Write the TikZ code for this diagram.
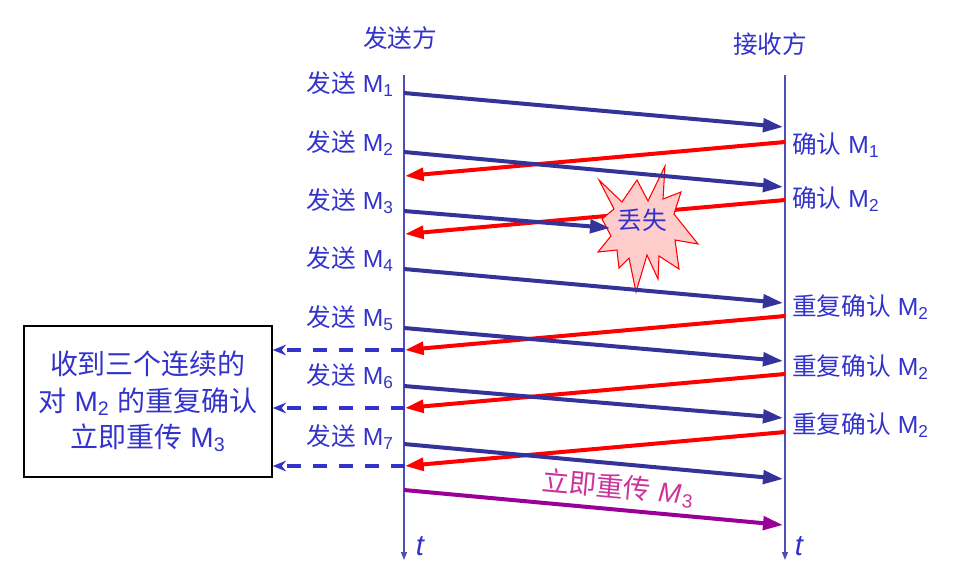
\documentclass[tikz,border=0pt]{standalone}
\usepackage{fontspec}
\setmainfont{Liberation Sans}
\newfontfamily\cjk{Noto Sans CJK SC}
\usetikzlibrary{arrows.meta}
\newcommand{\zh}[1]{{\cjk #1}}
\newcommand{\Msub}[1]{M\textsubscript{#1}}
\definecolor{navy}{HTML}{333399}
\definecolor{txtblue}{HTML}{3333CC}
\definecolor{lifeblue}{HTML}{5050B4}
\definecolor{ackred}{HTML}{FF0000}
\definecolor{retrans}{HTML}{990099}
\definecolor{retranstxt}{HTML}{CC3399}
\definecolor{starfill}{HTML}{FFCCCC}
\tikzset{
  lifeline/.style={draw=lifeblue, line width=1.1pt, -{Triangle[length=6pt,width=4.5pt]}},
  sendarrow/.style={draw=navy, line width=3pt, -{Triangle[length=15pt,width=10pt]}},
  ackarrow/.style={draw=ackred, line width=3pt, -{Triangle[length=14pt,width=9.5pt]}},
  retarrow/.style={draw=retrans, line width=3pt, -{Triangle[length=15pt,width=10pt]}},
  dasharrow/.style={draw=txtblue, line width=2.6pt, dash pattern=on 10.5pt off 9pt, -{Stealth[length=10pt,width=8pt]}},
  lbl/.style={text=txtblue, font=\fontsize{18.5}{22}\selectfont, inner sep=0pt},
  sendlbl/.style={lbl, anchor=east},
  acklbl/.style={lbl, anchor=west},
  hdr/.style={text=txtblue, font=\fontsize{18.5}{22}\selectfont, inner sep=0pt},
  tlbl/.style={text=txtblue, font=\fontsize{22}{24}\selectfont\itshape, inner sep=0pt},
}
\begin{document}
\begin{tikzpicture}[x=0.75pt,y=-0.75pt]
\useasboundingbox (0,0) rectangle (957,586);
% lifelines
\coordinate (Stop) at (404,75);
\coordinate (Sbot) at (404,560);
\coordinate (Rtop) at (785,75);
\coordinate (Rbot) at (785,560);
\draw[lifeline] (Stop) -- (Sbot);
\draw[lifeline] (Rtop) -- (Rbot);
% headers
\node[hdr] (hs) at (400,38) {\zh{发送方}};
\node[hdr] (hr) at (770,44) {\zh{接收方}};
% sender starts
\coordinate (s1) at (404,93);
\coordinate (s2) at (404,152);
\coordinate (s3) at (404,211);
\coordinate (s4) at (404,269);
\coordinate (s5) at (404,328);
\coordinate (s6) at (404,386);
\coordinate (s7) at (404,444);
\coordinate (s8) at (404,490);
% receiver ends
\coordinate (r1) at (783,127);
\coordinate (r2) at (783,187);
\coordinate (r4) at (783,303);
\coordinate (r5) at (783,361);
\coordinate (r6) at (783,418);
\coordinate (r7) at (783,479);
\coordinate (r8) at (783,525);
\coordinate (lost) at (610,228);
% acks
\coordinate (a1) at (785,142);
\coordinate (a2) at (785,200);
\coordinate (a3) at (785,316);
\coordinate (a4) at (785,374);
\coordinate (a5) at (785,432);
\coordinate (b1) at (405,176);
\coordinate (b2) at (405,234);
\coordinate (b3) at (405,350);
\coordinate (b4) at (405,408);
\coordinate (b5) at (405,466);
\draw[ackarrow] (a1) -- (b1);
\draw[ackarrow] (a2) -- (b2);
\draw[ackarrow] (a3) -- (b3);
\draw[ackarrow] (a4) -- (b4);
\draw[ackarrow] (a5) -- (b5);
% explosion
\draw[draw=ackred, fill=starfill, line width=0.8pt]
  (599,180) -- (622,202) -- (637,180) -- (648,201) -- (665,166) -- (663,199)
  -- (681,192) -- (674,214) -- (698,244) -- (675,240) -- (679,269) -- (659,256)
  -- (658,279) -- (647,255) -- (636,292) -- (629,258) -- (619,268) -- (617,250)
  -- (598,252) -- (611,236) -- (602,219) -- (614,209) -- cycle;
\node[lbl] (lostlbl) at (642,220) {\zh{丢失}};
% sends
\draw[sendarrow] (s1) -- (r1);
\draw[sendarrow] (s2) -- (r2);
\draw[sendarrow] (s3) -- (lost);
\draw[sendarrow] (s4) -- (r4);
\draw[sendarrow] (s5) -- (r5);
\draw[sendarrow] (s6) -- (r6);
\draw[sendarrow] (s7) -- (r7);
\draw[retarrow] (s8) -- (r8);
% send labels
\node[sendlbl] (l1) at (394,84) {\zh{发送} \Msub{1}};
\node[sendlbl] (l2) at (394,143) {\zh{发送} \Msub{2}};
\node[sendlbl] (l3) at (394,201) {\zh{发送} \Msub{3}};
\node[sendlbl] (l4) at (394,259) {\zh{发送} \Msub{4}};
\node[sendlbl] (l5) at (394,318) {\zh{发送} \Msub{5}};
\node[sendlbl] (l6) at (394,376) {\zh{发送} \Msub{6}};
\node[sendlbl] (l7) at (394,437) {\zh{发送} \Msub{7}};
% ack labels
\node[acklbl] (k1) at (792,145) {\zh{确认} \Msub{1}};
\node[acklbl] (k2) at (792,199) {\zh{确认} \Msub{2}};
\node[acklbl] (k3) at (792,307) {\zh{重复确认} \Msub{2}};
\node[acklbl] (k4) at (792,367) {\zh{重复确认} \Msub{2}};
\node[acklbl] (k5) at (792,425) {\zh{重复确认} \Msub{2}};
% box
\node[draw=black, line width=1.1pt, minimum width=186pt, minimum height=113pt,
      text=txtblue, align=center, font=\fontsize{21}{27.5}\selectfont, inner sep=0pt]
  (box) at (148,401.5) {\zh{收到三个连续的}\\\zh{对} \Msub{2} \zh{的重复确认}\\\zh{立即重传} \Msub{3}};
\draw[dasharrow] (b3) -- (box.east |- b3);
\draw[dasharrow] (b4) -- (box.east |- b4);
\draw[dasharrow] (b5) -- (box.east |- b5);
% retransmit label
\node[text=retranstxt, font=\fontsize{20.5}{24}\selectfont, inner sep=0pt, rotate=-5.2]
  (rl) at (618,488) {\zh{立即重传} \textit{M}\kern1pt\textsubscript{3}};
% t labels
\node[tlbl] (t1) at (420,546) {t};
\node[tlbl] (t2) at (799,546) {t};
\end{tikzpicture}
\end{document}
